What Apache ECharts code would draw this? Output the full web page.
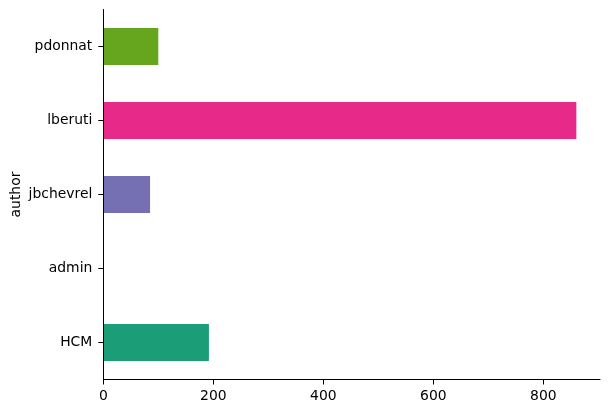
<!DOCTYPE html>
<html>
<head>
<meta charset="utf-8">
<script src="https://cdn.jsdelivr.net/npm/echarts@6/dist/echarts.min.js"></script>
<style>
html,body{margin:0;padding:0;background:#fff;}
#chart{width:609px;height:413px;}
</style>
</head>
<body>
<div id="chart"></div>
<script>
const categories = ['HCM', 'admin', 'jbchevrel', 'lberuti', 'pdonnat'];
const values = [192, 1, 85, 860, 100];
const colors = ['#1b9e77', '#d95f02', '#7570b3', '#e7298a', '#66a61e'];
const xTicks = [0, 200, 400, 600, 800];
const yAxisName = 'author';

const xMax = Math.max(...values) * 1.05;
const chart = echarts.init(document.getElementById('chart'), null, {renderer: 'canvas'});
const font = 'DejaVu Sans';
chart.setOption({
  animation: false,
  backgroundColor: '#fff',
  grid: {left: 103.3, right: 9, top: 9.5, height: 370, containLabel: false, outerBoundsMode: 'none'},
  xAxis: {
    type: 'value', min: 0, max: xMax, interval: 200,
    splitLine: {show: false},
    axisLine: {show: true, onZero: false, lineStyle: {color: '#000', width: 1}},
    axisTick: {show: true, length: 5, lineStyle: {color: '#000'}, customValues: xTicks},
    axisLabel: {color: '#000', fontFamily: font, fontSize: 13.9, margin: 10, customValues: xTicks},
    z: 5
  },
  yAxis: {
    type: 'category', data: categories,
    name: yAxisName, nameLocation: 'middle', nameGap: 80, nameMoveOverlap: false,
    nameTextStyle: {color: '#000', fontFamily: font, fontSize: 13.9},
    axisLine: {show: true, lineStyle: {color: '#000', width: 1}},
    axisTick: {show: true, alignWithLabel: true, length: 5, lineStyle: {color: '#000'}},
    axisLabel: {color: '#000', fontFamily: font, fontSize: 13.9, margin: 11},
    splitLine: {show: false},
    z: 5
  },
  series: [{
    type: 'bar',
    barWidth: '50%',
    data: values.map((v, i) => ({value: v, itemStyle: {color: colors[i]}}))
  }]
});
</script>
</body>
</html>
